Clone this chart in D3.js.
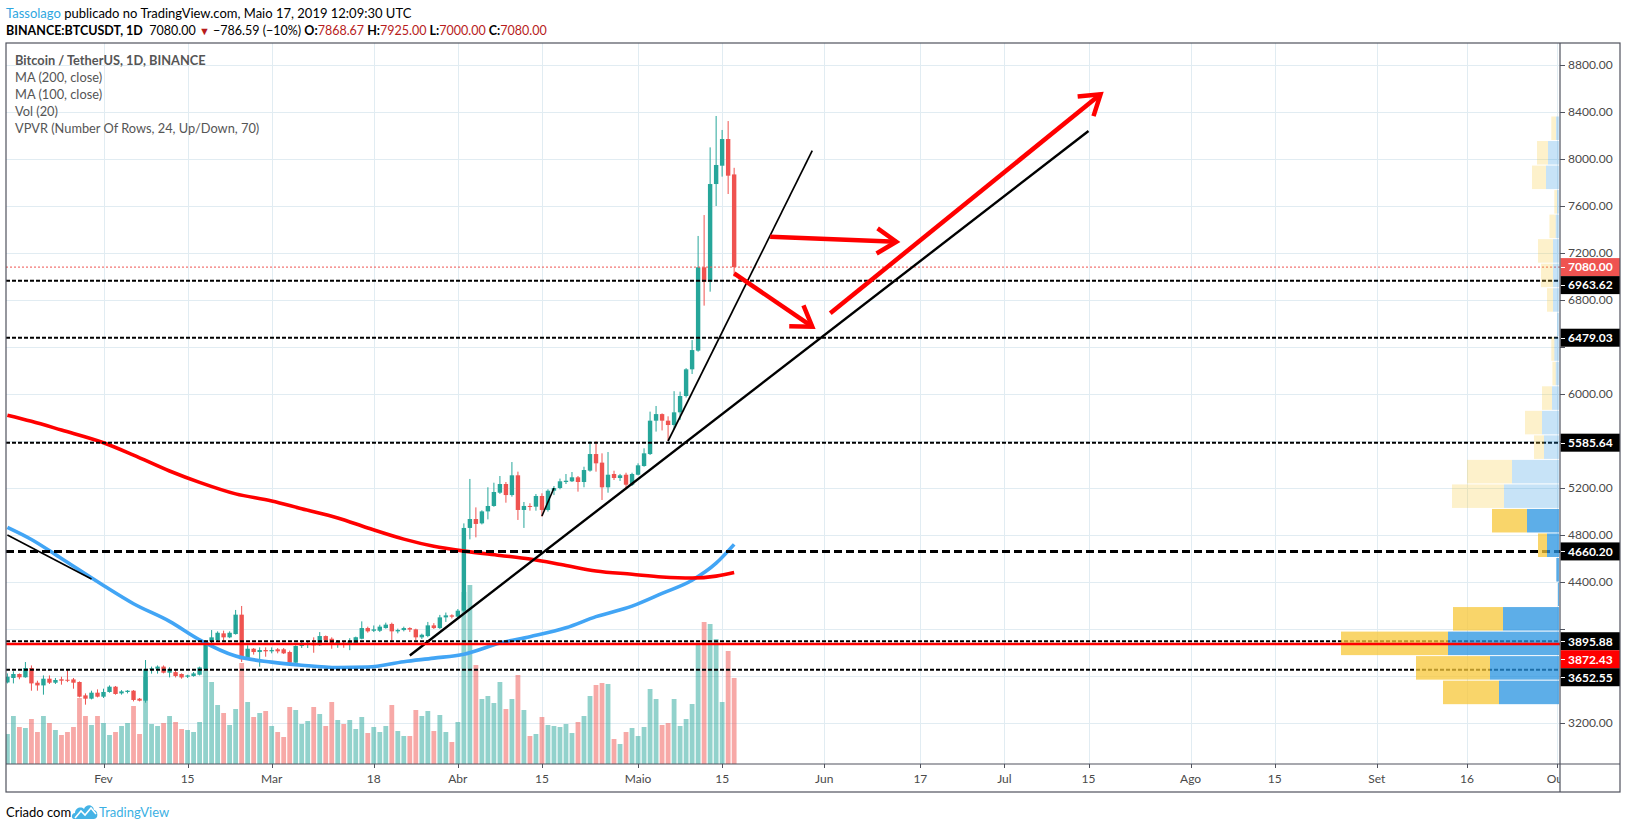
<!DOCTYPE html>
<html>
<head>
<meta charset="utf-8">
<script src="https://cdnjs.cloudflare.com/ajax/libs/d3/7.8.5/d3.min.js"></script>
<style>
body { margin: 0; background: #fff; }
svg { display: block; }
</style>
</head>
<body>
<script>
// ---- data (BINANCE:BTCUSDT 1D) ----
const firstDay = '2019-01-16';
const lastDay = '2019-05-17';

const opens = [3545,3583,3617,3589,3668,3543,3520,3577,3543,3572,3568,3571,3549,3435,3407,3458,
  3424,3464,3509,3452,3464,3475,3407,3390,3660,3662,3680,3628,3633,3617,3594,3600,3611,3657,3895,3906,3963,3929,3957,4122,3748,3832,3804,3821,
  3810,3827,3827,3804,3713,3856,3870,3878,3862,3940,3917,3865,3878,3865,3878,3917,4008,3985,3985,4008,4043,3980,3991,4008,3997,3929,3940,4031,4008,4099,4116,
  4105,4156,4860,4936,4899,5001,5047,5160,5234,5140,5308,5013,5047,5041,5132,5013,5177,5200,5251,5257,5291,5251,5348,5489,5416,5206,5319,5285,5313,5228,
  5313,5387,5489,5773,5829,5773,5736,5844,5983,6210,6369,7078,6956,7787,7943,8170,7868.67];
const highs = [3622,3640,3622,3719,3690,3560,3605,3605,3583,3594,3656,3583,3554,3452,3475,3486,
  3492,3520,3515,3480,3480,3480,3413,3736,3680,3690,3690,3674,3650,3622,3611,3634,3680,3906,3991,3980,3986,3980,4162,4196,3861,3838,3844,3844,
  3844,3838,3838,3816,3861,3906,3889,3929,3974,3945,3929,3906,3895,3922,3935,4065,4020,4030,4036,4054,4054,4003,4020,4015,4003,3960,4060,4050,4120,4140,4125,
  4170,4899,5277,5035,5010,5206,5245,5302,5251,5421,5339,5081,5070,5149,5155,5189,5217,5280,5319,5336,5302,5381,5597,5597,5495,5506,5347,5320,5330,5330,
  5410,5538,5850,5898,5835,5810,6024,6020,6220,6459,7345,7523,8099,8366,8247,8323,7925];
const lows = [3537,3537,3572,3585,3475,3475,3441,3532,3532,3526,3548,3492,3418,3356,3401,3418,
  3413,3458,3441,3441,3452,3384,3384,3373,3620,3620,3622,3588,3588,3577,3583,3594,3605,3651,3878,3895,3895,3922,3952,3719,3747,3782,3679,3764,
  3793,3793,3787,3708,3708,3838,3838,3798,3857,3889,3832,3840,3840,3820,3874,3912,3969,3974,3974,4003,3890,3963,3980,3975,3905,3915,3930,4000,4000,4060,4090,
  4090,4145,4763,4780,4890,4933,5040,5150,5075,5126,4928,4860,5007,5007,4956,4999,5140,5189,5234,5251,5169,5206,5339,5339,5098,5160,5268,5260,5189,5217,
  5308,5381,5481,5680,5690,5600,5700,5780,5970,6170,6360,6752,6871,7600,7850,7702,7000];
const closes = [3594,3617,3589,3668,3537,3520,3577,3543,3566,3560,3562,3543,3424,3407,3458,3424,
  3464,3509,3447,3469,3475,3396,3390,3660,3665,3680,3628,3660,3600,3588,3605,3622,3673,3895,3929,3968,3929,3968,4122,3742,3832,3804,3821,3810,
  3821,3810,3793,3713,3855,3872,3878,3861,3940,3906,3866,3890,3865,3895,3930,4008,3980,3997,4020,4037,3980,3991,4008,3995,3929,3951,4031,4008,4099,4116,4105,
  4156,4860,4936,4894,5001,5047,5166,5234,5140,5308,5013,5047,5041,5132,5013,5177,5200,5257,5262,5291,5251,5353,5489,5410,5206,5313,5285,5308,5228,5319,
  5393,5495,5773,5829,5773,5736,5844,5983,6210,6374,7078,6956,7787,7949,8170,7858,7080];
const volumes = [30,48,37,36,45,32,48,41,34,29,32,37,66,48,39,48,
  41,29,32,38,41,58,30,87,40,38,41,48,42,35,34,32,42,94,82,59,51,39,55,101,62,47,51,53,
  38,32,27,57,54,40,43,57,50,38,62,44,40,44,35,47,31,37,32,38,59,33,28,28,54,48,53,33,49,32,22,
  42,172,179,99,65,68,61,82,55,65,89,54,28,30,47,39,38,37,40,31,42,48,68,79,81,80,25,20,32,36,
  28,37,75,65,39,41,65,38,45,60,120,142,140,125,62,113,86];

const maDates = ['2019-01-16','2019-01-20','2019-01-25','2019-02-01','2019-02-06','2019-02-12','2019-02-17','2019-02-23',
  '2019-03-01','2019-03-06','2019-03-12','2019-03-17','2019-03-23','2019-03-28','2019-04-02','2019-04-08','2019-04-13',
  '2019-04-19','2019-04-24','2019-04-30','2019-05-05','2019-05-10','2019-05-14','2019-05-17'];
const ma200 = [5820,5768,5693,5585,5480,5345,5248,5150,5090,5023,4945,4860,4765,4704,4663,4626,4595,4540,4494,4466,4443,4434,4450,4480];
const ma100 = [4865,4762,4600,4370,4215,4065,3908,3770,3718,3692,3672,3676,3722,3752,3785,3880,3935,4010,4105,4195,4303,4415,4560,4720];

// VPVR, 24 rows bottom -> top (up = blue, down = yellow)
const vpUp   = [60,69,111,56,1,2.7,12,32,55,47,15,17,7,3.3,4.7,2,6,6,6,3.3,2,13,11,3];
const vpDown = [56,74,107,50,0,0,9,35,52,45,10,17,10,3.3,3,0,6,12,15,6.3,2.7,14,11,4.7];
const vpValueArea = [1,1,1,1,1,1,1,1,0,0,0,0,0,0,0,0,0,0,0,0,0,0,0,0];

const dashedLevels = [6963.62, 6479.03, 5585.64, 4660.20, 3895.88, 3652.55];
const boldLevel = 4660.20;
const redLevel = 3872.43;
const lastPrice = 7080.00;

// drawn lines: [date, price, date, price]
const trendLines = [
  ['2019-01-16', 4800, '2019-01-30', 4425],
  ['2019-03-24', 3775, '2019-07-15', 8238],
  ['2019-05-06', 5600, '2019-05-30', 8071],
  ['2019-04-15', 4962, '2019-04-17', 5200]
];
const trendWidths = [1.6, 2.4, 1.7, 1.6];
const arrows = [
  ['2019-05-23', 7339, '2019-06-13', 7296],
  ['2019-05-17', 7027, '2019-05-30', 6573],
  ['2019-06-02', 6687, '2019-07-17', 8551]
];

const tickDates = ['2019-02-01','2019-02-15','2019-03-01','2019-03-18','2019-04-01','2019-04-15','2019-05-01','2019-05-15',
  '2019-06-01','2019-06-17','2019-07-01','2019-07-15','2019-08-01','2019-08-15','2019-09-01','2019-09-16','2019-10-01'];
const tickLabels = ['Fev','15','Mar','18','Abr','15','Maio','15','Jun','17','Jul','15','Ago','15','Set','16','Out'];
const priceTicks = [3200,3600,4000,4400,4800,5200,5600,6000,6400,6800,7200,7600,8000,8400,8800];

// ---- layout ----
const W = 1627, H = 829;
const L = 6, T = 43, R = 1560, B = 764, AXR = 1620, BB = 792;
const UP = '#26a69a', DOWN = '#ef5350', GRID = '#e1ecf2', FRAME = '#50535e', TXT = '#4a4a4a';

const parse = d3.utcParse('%Y-%m-%d');
const days = d3.utcDay.range(parse(firstDay), d3.utcDay.offset(parse(lastDay), 1));
const bars = days.map((d, i) => ({d: d, o: opens[i], h: highs[i], l: lows[i], c: closes[i], v: volumes[i]}));

const x = d3.scaleUtc().domain([parse('2019-02-01'), parse('2019-10-01')]).range([103.5, 1557]);
const y = d3.scaleLinear().domain([3200, 8800]).range([723, 65]);
const yVol = d3.scaleLinear().domain([0, d3.max(volumes)]).range([B, 585]);

const svg = d3.select('body').append('svg')
    .attr('width', W).attr('height', H)
    .style('font-family', 'Lato, "Open Sans", sans-serif');

const defs = svg.append('defs');
defs.append('clipPath').attr('id', 'plot')
  .append('rect').attr('x', L).attr('y', T).attr('width', R - L).attr('height', B - T);

const plot = svg.append('g').attr('clip-path', 'url(#plot)');

// grid
plot.selectAll('.vg').data(tickDates).enter().append('line')
    .attr('x1', d => Math.round(x(parse(d))) + 0.5).attr('x2', d => Math.round(x(parse(d))) + 0.5)
    .attr('y1', T).attr('y2', B).attr('stroke', GRID).attr('stroke-width', 1);
plot.selectAll('.hg').data(priceTicks).enter().append('line')
    .attr('x1', L).attr('x2', R)
    .attr('y1', d => Math.round(y(d)) + 0.5).attr('y2', d => Math.round(y(d)) + 0.5)
    .attr('stroke', GRID).attr('stroke-width', 1);

// volume
plot.selectAll('.vol').data(bars).enter().append('rect')
    .attr('x', b => x(b.d) - 2.4).attr('width', 4.8)
    .attr('y', b => yVol(b.v)).attr('height', b => B - yVol(b.v))
    .attr('fill', b => b.c >= b.o ? UP : DOWN).attr('fill-opacity', 0.5);

// candles
const cg = plot.selectAll('.candle').data(bars).enter().append('g');
cg.append('line')
    .attr('x1', b => x(b.d)).attr('x2', b => x(b.d))
    .attr('y1', b => y(b.h)).attr('y2', b => y(b.l))
    .attr('stroke', b => b.c >= b.o ? UP : DOWN).attr('stroke-width', 1);
cg.append('rect')
    .attr('x', b => x(b.d) - 2.2).attr('width', 4.4)
    .attr('y', b => y(Math.max(b.o, b.c)))
    .attr('height', b => Math.max(1, Math.abs(y(b.o) - y(b.c))))
    .attr('fill', b => b.c >= b.o ? UP : DOWN);

// moving averages
function maLine(vals) {
    return d3.line()
        .x((v, i) => x(parse(maDates[i])))
        .y(v => y(v))
        .curve(d3.curveMonotoneX)(vals);
}
plot.append('path').attr('d', maLine(ma100)).attr('fill', 'none')
    .attr('stroke', '#42a5f5').attr('stroke-width', 3.6);
plot.append('path').attr('d', maLine(ma200)).attr('fill', 'none')
    .attr('stroke', '#ff0000').attr('stroke-width', 3.6);

// horizontal levels
plot.selectAll('.lvl').data(dashedLevels).enter().append('line')
    .attr('x1', L).attr('x2', R)
    .attr('y1', d => y(d)).attr('y2', d => y(d))
    .attr('stroke', '#000')
    .attr('stroke-width', d => d === boldLevel ? 3 : 2)
    .attr('stroke-dasharray', d => d === boldLevel ? '8,4' : '4,2');

// last price
plot.append('line').attr('x1', L).attr('x2', R)
    .attr('y1', y(lastPrice)).attr('y2', y(lastPrice))
    .attr('stroke', DOWN).attr('stroke-width', 1).attr('stroke-dasharray', '2,2');

// trend lines
plot.selectAll('.trend').data(trendLines).enter().append('line')
    .attr('x1', t => x(parse(t[0]))).attr('y1', t => y(t[1]))
    .attr('x2', t => x(parse(t[2]))).attr('y2', t => y(t[3]))
    .attr('stroke', '#000').attr('stroke-width', (t, i) => trendWidths[i]);

// arrows
arrows.forEach(a => {
    const x1 = x(parse(a[0])), y1 = y(a[1]), x2 = x(parse(a[2])), y2 = y(a[3]);
    const ang = Math.atan2(y1 - y2, x1 - x2);
    const len = 23, spread = 0.58;
    plot.append('line').attr('x1', x1).attr('y1', y1).attr('x2', x2).attr('y2', y2)
        .attr('stroke', '#ff0000').attr('stroke-width', 4.5);
    plot.append('path')
        .attr('d', 'M' + (x2 + len * Math.cos(ang + spread)) + ',' + (y2 + len * Math.sin(ang + spread)) +
                   'L' + x2 + ',' + y2 +
                   'L' + (x2 + len * Math.cos(ang - spread)) + ',' + (y2 + len * Math.sin(ang - spread)))
        .attr('fill', 'none').attr('stroke', '#ff0000').attr('stroke-width', 4.5)
        .attr('stroke-linejoin', 'miter');
});

// VPVR
const vpLow = d3.min(lows), vpHigh = d3.max(highs);
const rowH = (vpHigh - vpLow) / vpUp.length;
const vpW = d3.scaleLinear().domain([0, d3.max(vpUp.map((u, i) => u + vpDown[i]))]).range([0, 218]);
const vp = plot.append('g');
vpUp.forEach((u, i) => {
    const top = y(vpLow + (i + 1) * rowH) + 0.5, bot = y(vpLow + i * rowH) - 0.5;
    const op = vpValueArea[i] ? 0.75 : 0.26;
    const xr = R - 1;
    vp.append('rect').attr('x', xr - vpW(u)).attr('width', vpW(u))
        .attr('y', top).attr('height', bot - top).attr('fill', '#2793e0').attr('fill-opacity', op);
    vp.append('rect').attr('x', xr - vpW(u) - vpW(vpDown[i])).attr('width', vpW(vpDown[i]))
        .attr('y', top).attr('height', bot - top).attr('fill', '#f7c738').attr('fill-opacity', op);
});

// red solid level
plot.append('line').attr('x1', L).attr('x2', R)
    .attr('y1', y(redLevel)).attr('y2', y(redLevel))
    .attr('stroke', '#ff0000').attr('stroke-width', 2.5);

// ---- right price axis ----
const tagH = 18;
const tags = dashedLevels.map(v => ({v: v, bg: '#000'}))
    .concat([{v: lastPrice, bg: DOWN}, {v: redLevel, bg: '#ff0000'}])
    .map(t => ({v: t.v, bg: t.bg, cy: y(t.v)}))
    .sort((a, b) => a.cy - b.cy);
// push colliding tags downwards
for (let i = 1; i < tags.length; i++) {
    if (tags[i].cy < tags[i - 1].cy + tagH) tags[i].cy = tags[i - 1].cy + tagH;
}
// price labels only where a tag does not sit on top of them
const freeTicks = priceTicks.filter(p => tags.every(t => Math.abs(y(p) - t.cy) > tagH / 2 + 5));

const ax = svg.append('g');
ax.selectAll('.pt').data(priceTicks).enter().append('line')
    .attr('x1', R).attr('x2', R + 5)
    .attr('y1', d => Math.round(y(d)) + 0.5).attr('y2', d => Math.round(y(d)) + 0.5)
    .attr('stroke', FRAME);
ax.selectAll('.pl').data(freeTicks).enter().append('text')
    .attr('x', R + 8).attr('y', d => y(d)).attr('dy', '0.36em')
    .attr('font-size', 12).attr('fill', TXT)
    .text(d => d3.format('.2f')(d));

const tg = ax.selectAll('.tag').data(tags).enter().append('g');
tg.append('rect').attr('x', R + 0.5).attr('y', t => t.cy - tagH / 2)
    .attr('width', AXR - R - 0.5).attr('height', tagH).attr('fill', t => t.bg);
tg.append('line').attr('x1', R + 1).attr('x2', R + 5)
    .attr('y1', t => Math.round(t.cy) + 0.5).attr('y2', t => Math.round(t.cy) + 0.5)
    .attr('stroke', '#fff');
tg.append('text').attr('x', R + 8).attr('y', t => t.cy).attr('dy', '0.36em')
    .attr('font-size', 12).attr('font-weight', 'bold').attr('fill', '#fff')
    .text(t => d3.format('.2f')(t.v));

// ---- bottom time axis ----
const bx = svg.append('g');
bx.selectAll('.bt').data(tickDates).enter().append('line')
    .attr('x1', d => Math.round(x(parse(d))) + 0.5).attr('x2', d => Math.round(x(parse(d))) + 0.5)
    .attr('y1', B).attr('y2', B + 4).attr('stroke', FRAME);
defs.append('clipPath').attr('id', 'timeaxis')
  .append('rect').attr('x', L).attr('y', B).attr('width', R - L).attr('height', BB - B);
bx.append('g').attr('clip-path', 'url(#timeaxis)')
  .selectAll('.bl').data(tickDates).enter().append('text')
    .attr('x', d => x(parse(d))).attr('y', B + 19)
    .attr('text-anchor', 'middle').attr('font-size', 12).attr('fill', TXT)
    .text((d, i) => tickLabels[i]);

// ---- frame ----
const fr = svg.append('g').attr('stroke', FRAME).attr('stroke-width', 1.2).attr('fill', 'none');
fr.append('rect').attr('x', L).attr('y', T).attr('width', AXR - L).attr('height', BB - T);
fr.append('line').attr('x1', R).attr('x2', R).attr('y1', T).attr('y2', BB);
fr.append('line').attr('x1', L).attr('x2', AXR).attr('y1', B).attr('y2', B);

// ---- header ----
const h1 = svg.append('text').attr('x', 6).attr('y', 18).attr('font-size', 13).attr('fill', '#000');
h1.append('tspan').attr('fill', '#2ea6df').text('Tassolago');
h1.append('tspan').text(' publicado no TradingView.com, Maio 17, 2019 12:09:30 UTC');

const RED_TXT = '#b71c1c';
const h2 = svg.append('text').attr('x', 6).attr('y', 35).attr('font-size', 12.5).attr('fill', '#000');
h2.append('tspan').attr('font-weight', 'bold').text('BINANCE:BTCUSDT, 1D');
h2.append('tspan').text('\u00a0 ' + d3.format('.2f')(closes[closes.length - 1]) + ' ');
h2.append('tspan').attr('fill', RED_TXT).attr('font-size', 11).text('\u25bc');
h2.append('tspan').text(' \u2212786.59 (\u221210%) ');
[['O:', opens], ['H:', highs], ['L:', lows], ['C:', closes]].forEach((p, i) => {
    h2.append('tspan').attr('font-weight', 'bold').text((i ? ' ' : '') + p[0]);
    h2.append('tspan').attr('fill', RED_TXT).text(d3.format('.2f')(p[1][p[1].length - 1]));
});

// legend
const legend = ['Bitcoin / TetherUS, 1D, BINANCE', 'MA (200, close)', 'MA (100, close)', 'Vol (20)', 'VPVR (Number Of Rows, 24, Up/Down, 70)'];
svg.selectAll('.lg').data(legend).enter().append('text')
    .attr('x', 15).attr('y', (d, i) => 65 + i * 17)
    .attr('font-size', 12.8).attr('fill', '#555')
    .attr('font-weight', (d, i) => i === 0 ? 'bold' : 'normal')
    .text(d => d);

// footer
svg.append('text').attr('x', 6).attr('y', 817).attr('font-size', 13).attr('fill', '#000').text('Criado com');
const logo = svg.append('g').attr('transform', 'translate(72,803)');
logo.append('path')
    .attr('d', 'M2,16 C-1,16 -1,10 3,10 C3,5 9,3 12,6 C14,1 21,1 22,7 C26,7 27,16 22,16 Z')
    .attr('fill', '#45b3e6');
logo.append('path').attr('d', 'M3,15 L9,8 L13,12 L19,5 L24,11')
    .attr('fill', 'none').attr('stroke', '#fff').attr('stroke-width', 1.6);
svg.append('text').attr('x', 99).attr('y', 817).attr('font-size', 13).attr('fill', '#3bb0e3').text('TradingView');
</script>
</body>
</html>
